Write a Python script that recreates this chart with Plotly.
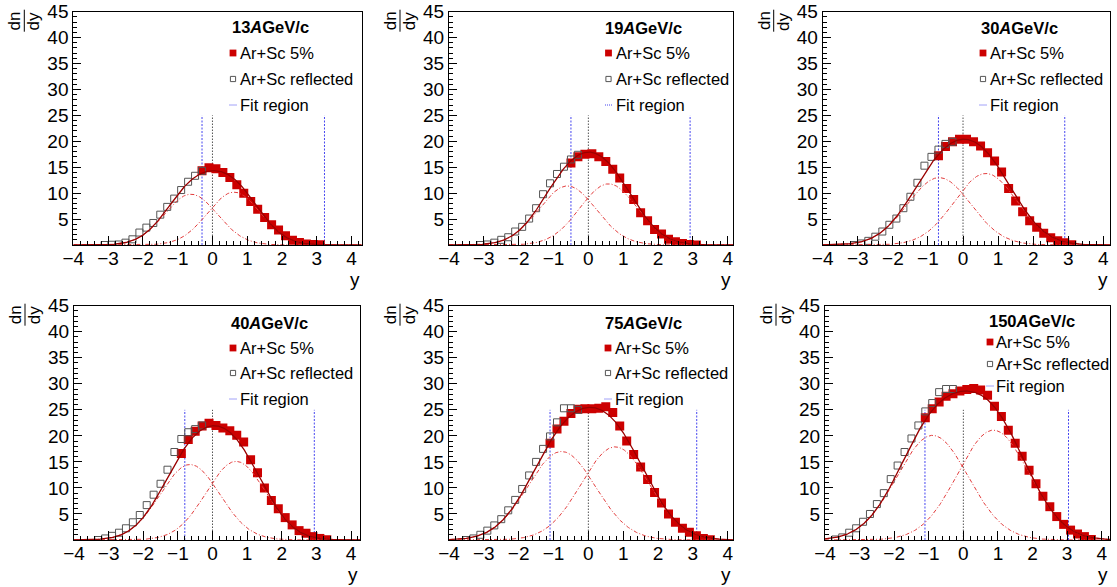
import numpy as np
import plotly.graph_objects as go

W, H = 1117, 587
FONT = "Liberation Sans, Arial, Helvetica, sans-serif"

# ---------------- data ----------------
energy_labels = ["13", "19", "30", "40", "75", "150"]

# Ar+Sc 5% (red full squares)
red_x_13 = [-0.3, -0.1, 0.1, 0.3, 0.5, 0.7, 0.9, 1.1, 1.3, 1.5, 1.7, 1.9, 2.1, 2.3, 2.5, 2.7, 2.9, 3.1]
red_y_13 = [14.3, 14.9, 14.7, 14.0, 13.0, 11.6, 10.0, 8.4, 6.9, 5.3, 3.9, 2.9, 1.8, 0.9, 0.5, 0.2, 0.1, 0.05]
red_x_19 = [-0.5, -0.3, -0.1, 0.1, 0.3, 0.5, 0.7, 0.9, 1.1, 1.3, 1.5, 1.7, 1.9, 2.1, 2.3, 2.5, 2.7, 2.9, 3.1]
red_y_19 = [15.8, 17.0, 17.5, 17.6, 17.0, 16.1, 14.6, 12.9, 10.9, 8.8, 6.2, 4.7, 3.0, 2.1, 1.1, 0.65, 0.3, 0.1, 0.02]
red_x_30 = [-0.7, -0.5, -0.3, -0.1, 0.1, 0.3, 0.5, 0.7, 0.9, 1.1, 1.3, 1.5, 1.7, 1.9, 2.1, 2.3, 2.5, 2.7, 2.9, 3.1]
red_y_30 = [17.2, 19.0, 19.9, 20.4, 20.4, 19.9, 19.1, 17.8, 16.2, 14.1, 10.9, 8.5, 6.4, 4.7, 3.4, 2.25, 1.4, 0.8, 0.45, 0.05]
red_x_40 = [-0.9, -0.7, -0.5, -0.3, -0.1, 0.1, 0.3, 0.5, 0.7, 0.9, 1.1, 1.3, 1.5, 1.7, 1.9, 2.1, 2.3, 2.5, 2.7, 2.9, 3.1, 3.3]
red_y_40 = [16.6, 19.3, 20.9, 21.9, 22.4, 22.0, 21.5, 21.0, 20.1, 18.8, 15.4, 12.9, 10.0, 7.6, 6.0, 4.3, 2.9, 1.8, 1.3, 0.65, 0.3, 0.05]
red_x_75 = [-1.1, -0.9, -0.7, -0.5, -0.3, -0.1, 0.1, 0.3, 0.5, 0.7, 0.9, 1.1, 1.3, 1.5, 1.7, 1.9, 2.1, 2.3, 2.5, 2.7, 2.9, 3.1, 3.3, 3.5]
red_y_75 = [18.6, 21.3, 22.8, 24.3, 25.1, 25.2, 25.2, 25.3, 25.6, 24.5, 21.9, 19.0, 16.4, 14.0, 11.6, 9.1, 7.1, 5.0, 3.4, 2.25, 1.5, 0.8, 0.3, 0.05]
red_x_150 = [-1.1, -0.9, -0.7, -0.5, -0.3, -0.1, 0.1, 0.3, 0.5, 0.7, 0.9, 1.1, 1.3, 1.5, 1.7, 1.9, 2.1, 2.3, 2.5, 2.7, 2.9, 3.1, 3.3, 3.5, 3.7]
red_y_150 = [23.5, 25.2, 26.5, 27.6, 28.1, 28.6, 28.9, 29.1, 28.8, 27.8, 25.7, 23.7, 21.1, 18.6, 16.1, 13.4, 10.8, 8.4, 6.4, 4.5, 3.0, 1.9, 1.15, 0.65, 0.1]

# Ar+Sc reflected (gray open squares)
refl_x_13 = [-3.1, -2.9, -2.7, -2.5, -2.3, -2.1, -1.9, -1.7, -1.5, -1.3, -1.1, -0.9, -0.7, -0.5, -0.3]
refl_y_13 = [0.0, 0.05, 0.1, 0.45, 1.1, 2.4, 3.35, 4.25, 5.85, 7.35, 8.95, 10.6, 12.2, 13.35, 14.3]
refl_x_19 = [-3.1, -2.9, -2.7, -2.5, -2.3, -2.1, -1.9, -1.7, -1.5, -1.3, -1.1, -0.9, -0.7, -0.5, -0.3]
refl_y_19 = [0.0, 0.1, 0.45, 1.0, 1.5, 2.6, 3.5, 5.1, 7.1, 9.8, 11.9, 13.7, 15.1, 16.5, 17.4]
refl_x_30 = [-3.1, -2.9, -2.7, -2.5, -2.3, -2.1, -1.9, -1.7, -1.5, -1.3, -1.1, -0.9, -0.7, -0.5, -0.3]
refl_y_30 = [0.0, 0.3, 0.8, 1.6, 2.6, 3.9, 5.1, 7.1, 9.3, 12.0, 15.3, 17.0, 18.4, 19.5, 19.9]
refl_x_40 = [-3.3, -3.1, -2.9, -2.7, -2.5, -2.3, -2.1, -1.9, -1.7, -1.5, -1.3, -1.1, -0.9, -0.7, -0.5, -0.3]
refl_y_40 = [0.0, 0.3, 0.8, 1.4, 2.25, 3.4, 4.8, 6.7, 8.7, 10.8, 13.5, 16.9, 19.4, 20.7, 21.3, 22.0]
refl_x_75 = [-3.5, -3.3, -3.1, -2.9, -2.7, -2.5, -2.3, -2.1, -1.9, -1.7, -1.5, -1.3, -1.1, -0.9, -0.7, -0.5, -0.3]
refl_y_75 = [0.0, 0.3, 1.0, 1.8, 2.8, 4.0, 5.7, 7.7, 9.8, 12.4, 15.0, 17.5, 19.9, 22.6, 25.3, 25.3, 25.0]
refl_x_150 = [-3.7, -3.5, -3.3, -3.1, -2.9, -2.7, -2.5, -2.3, -2.1, -1.9, -1.7, -1.5, -1.3, -1.1, -0.9, -0.7, -0.5, -0.3]
refl_y_150 = [0.1, 0.5, 1.4, 2.25, 3.5, 5.0, 6.9, 9.0, 11.7, 14.3, 16.9, 19.5, 22.0, 24.7, 26.3, 28.4, 29.0, 29.0]

# fit region limits [low, high]
fit_region_13 = [-0.3, 3.22]
fit_region_19 = [-0.5, 2.92]
fit_region_30 = [-0.7, 2.9]
fit_region_40 = [-0.8, 2.94]
fit_region_75 = [-1.1, 3.11]
fit_region_150 = [-1.11, 3.04]
fit_line_height = 25

# double-Gaussian fit parameters: (amplitude, mean, sigma) for left and right Gaussian
fit_left_13, fit_right_13 = (9.8, -0.62, 0.76), (10.2, 0.62, 0.76)
fit_left_19, fit_right_19 = (11.4, -0.60, 0.82), (11.8, 0.58, 0.82)
fit_left_30, fit_right_30 = (13.0, -0.68, 0.90), (13.8, 0.65, 0.90)
fit_left_40, fit_right_40 = (14.5, -0.65, 0.86), (15.1, 0.68, 0.86)
fit_left_75, fit_right_75 = (17.0, -0.77, 0.97), (17.9, 0.77, 0.97)
fit_left_150, fit_right_150 = (20.1, -0.89, 1.03), (21.1, 0.87, 1.03)

x_tick_vals = [-4, -3, -2, -1, 0, 1, 2, 3, 4]
y_tick_vals = [5, 10, 15, 20, 25, 30, 35, 40, 45]

# ---------------- layout geometry (pixels) ----------------
panels = [
    dict(rx=red_x_13, ry=red_y_13, gx=refl_x_13, gy=refl_y_13, fr=fit_region_13, gl=fit_left_13, gr=fit_right_13,
         box=(73.3, 11.7, 361.7, 245.0), xmax=4.29, leg=(230, 27, 233, 238, (53, 79, 105))),
    dict(rx=red_x_19, ry=red_y_19, gx=refl_x_19, gy=refl_y_19, fr=fit_region_19, gl=fit_left_19, gr=fit_right_19,
         box=(449.0, 11.7, 733.3, 245.0), xmax=4.16, leg=(603, 28, 608.5, 614, (53, 79, 105))),
    dict(rx=red_x_30, ry=red_y_30, gx=refl_x_30, gy=refl_y_30, fr=fit_region_30, gl=fit_left_30, gr=fit_right_30,
         box=(822.7, 11.7, 1110.0, 245.0), xmax=4.19, leg=(979, 28, 983, 988, (53, 79, 105))),
    dict(rx=red_x_40, ry=red_y_40, gx=refl_x_40, gy=refl_y_40, fr=fit_region_40, gl=fit_left_40, gr=fit_right_40,
         box=(74.0, 305.7, 360.0, 540.0), xmax=4.26, leg=(229, 323, 233, 238, (348, 373, 399))),
    dict(rx=red_x_75, ry=red_y_75, gx=refl_x_75, gy=refl_y_75, fr=fit_region_75, gl=fit_left_75, gr=fit_right_75,
         box=(449.0, 305.7, 733.3, 540.0), xmax=4.16, leg=(603, 323, 608, 613, (348, 373, 399))),
    dict(rx=red_x_150, ry=red_y_150, gx=refl_x_150, gy=refl_y_150, fr=fit_region_150, gl=fit_left_150, gr=fit_right_150,
         box=(825.0, 305.7, 1110.0, 540.0), xmax=4.24, leg=(987, 321, 990, 994, (342, 364, 386))),
]


def PX(x):
    return x / W


def PY(y):
    return 1 - y / H


def gauss(x, p):
    a, m, s = p
    return a * np.exp(-0.5 * ((x - m) / s) ** 2)


RED = "#cc0000"
GRAY = "#555555"
BLUE = "#4646f0"

fig = go.Figure()
layout = dict(
    width=W, height=H, margin=dict(l=0, r=0, t=0, b=0, autoexpand=False),
    paper_bgcolor="white", plot_bgcolor="white", showlegend=False,
    font=dict(family=FONT, color="black"),
)
shapes = []
annotations = []

for i, (p, elab) in enumerate(zip(panels, energy_labels)):
    k = "" if i == 0 else str(i + 1)
    xa, ya = "x" + k, "y" + k
    L, T, R, B = p["box"]
    layout["xaxis" + k] = dict(
        domain=[PX(L), PX(R)], anchor=ya, range=[-4, p["xmax"]], automargin=False,
        tickmode="array", tickvals=x_tick_vals, ticks="inside", ticklen=9, tickwidth=1, tickcolor="black",
        minor=dict(ticks="inside", ticklen=4.5, tickmode="linear", tick0=0, dtick=0.2, tickcolor="black", tickwidth=1),
        showline=True, mirror=True, linecolor="black", linewidth=1, ticklabelstandoff=-4,
        showgrid=False, zeroline=False, tickfont=dict(size=19, family=FONT, color="black"),
    )
    layout["yaxis" + k] = dict(
        domain=[PY(B), PY(T)], anchor=xa, range=[0, 45], automargin=False,
        tickmode="array", tickvals=y_tick_vals, ticks="inside", ticklen=8, tickwidth=1, tickcolor="black",
        minor=dict(ticks="inside", ticklen=4, tickmode="linear", tick0=0, dtick=1, tickcolor="black", tickwidth=1),
        showline=True, mirror=True, linecolor="black", linewidth=1,
        showgrid=False, zeroline=False, tickfont=dict(size=19, family=FONT, color="black"),
    )

    lo, hi = p["fr"]
    # fit region lines
    fig.add_trace(go.Scatter(x=[lo, lo, None, hi, hi], y=[0, fit_line_height, None, 0, fit_line_height],
                             mode="lines", line=dict(color=BLUE, width=1, dash="2px,1.5px"),
                             xaxis=xa, yaxis=ya, hoverinfo="skip"))
    fig.add_trace(go.Scatter(x=[0, 0], y=[0, fit_line_height], mode="lines",
                             line=dict(color="#555555", width=1, dash="1.5px,1.5px"),
                             xaxis=xa, yaxis=ya, hoverinfo="skip"))
    # data
    fig.add_trace(go.Scatter(x=p["rx"], y=p["ry"], mode="markers",
                             marker=dict(symbol="square", size=9, color=RED, line=dict(width=0)),
                             xaxis=xa, yaxis=ya))
    fig.add_trace(go.Scatter(x=p["gx"], y=p["gy"], mode="markers",
                             marker=dict(symbol="square-open", size=7, color=GRAY, line=dict(width=1, color=GRAY)),
                             xaxis=xa, yaxis=ya))
    # fit curves
    xs = np.linspace(-4, p["xmax"], 500)
    g1 = gauss(xs, p["gl"])
    g2 = gauss(xs, p["gr"])
    for g in (g1, g2):
        fig.add_trace(go.Scatter(x=xs, y=g, mode="lines",
                                 line=dict(color="#e23c3c", width=1, dash="4px,2px,1px,2px"),
                                 xaxis=xa, yaxis=ya, hoverinfo="skip"))
    fig.add_trace(go.Scatter(x=xs, y=g1 + g2, mode="lines", line=dict(color="#9a0000", width=1.3),
                             xaxis=xa, yaxis=ya, hoverinfo="skip"))

    # y-axis title dn/dy (rotated fraction)
    yc = T + 9
    annotations.append(dict(x=PX(L - 58.5), y=PY(yc), xref="paper", yref="paper", text="dn", textangle=-90,
                            showarrow=False, xanchor="center", yanchor="middle",
                            font=dict(size=17, family=FONT, color="black")))
    annotations.append(dict(x=PX(L - 39.5), y=PY(yc + 1), xref="paper", yref="paper", text="dy", textangle=-90,
                            showarrow=False, xanchor="center", yanchor="middle",
                            font=dict(size=17, family=FONT, color="black")))
    shapes.append(dict(type="line", xref="paper", yref="paper", x0=PX(L - 49), x1=PX(L - 49),
                       y0=PY(T - 2), y1=PY(T + 20), line=dict(color="black", width=1)))
    # x-axis title
    annotations.append(dict(x=PX(R), y=PY(B + 34), xref="paper", yref="paper", text="y",
                            showarrow=False, xanchor="right", yanchor="middle",
                            font=dict(size=19, family=FONT, color="black")))

    # legend
    tx, ty, mx, lx, ys = p["leg"]
    annotations.append(dict(x=PX(tx), y=PY(ty), xref="paper", yref="paper",
                            text="<b>" + elab + "<i>A</i>GeV/c</b>", showarrow=False,
                            xanchor="left", yanchor="middle", font=dict(size=16.5, family=FONT, color="black")))
    entries = ["Ar+Sc 5%", "Ar+Sc reflected", "Fit region"]
    for j, (txt, yy) in enumerate(zip(entries, ys)):
        annotations.append(dict(x=PX(lx), y=PY(yy), xref="paper", yref="paper", text=txt, showarrow=False,
                                xanchor="left", yanchor="middle", font=dict(size=16.5, family=FONT, color="black")))
    s = 3.4
    shapes.append(dict(type="rect", xref="paper", yref="paper", x0=PX(mx - s), x1=PX(mx + s),
                       y0=PY(ys[0] - s), y1=PY(ys[0] + s), fillcolor=RED, line=dict(width=0)))
    s = 2.6
    shapes.append(dict(type="rect", xref="paper", yref="paper", x0=PX(mx - s), x1=PX(mx + s),
                       y0=PY(ys[1] - s), y1=PY(ys[1] + s), fillcolor="rgba(0,0,0,0)",
                       line=dict(width=1, color=GRAY)))
    shapes.append(dict(type="line", xref="paper", yref="paper", x0=PX(mx - 3.5), x1=PX(mx + 3.5),
                       y0=PY(ys[2]), y1=PY(ys[2]), line=dict(width=1, color=BLUE, dash="1px,1px")))

layout["shapes"] = shapes
layout["annotations"] = annotations
fig.update_layout(**layout)
fig.write_html("out.html")
